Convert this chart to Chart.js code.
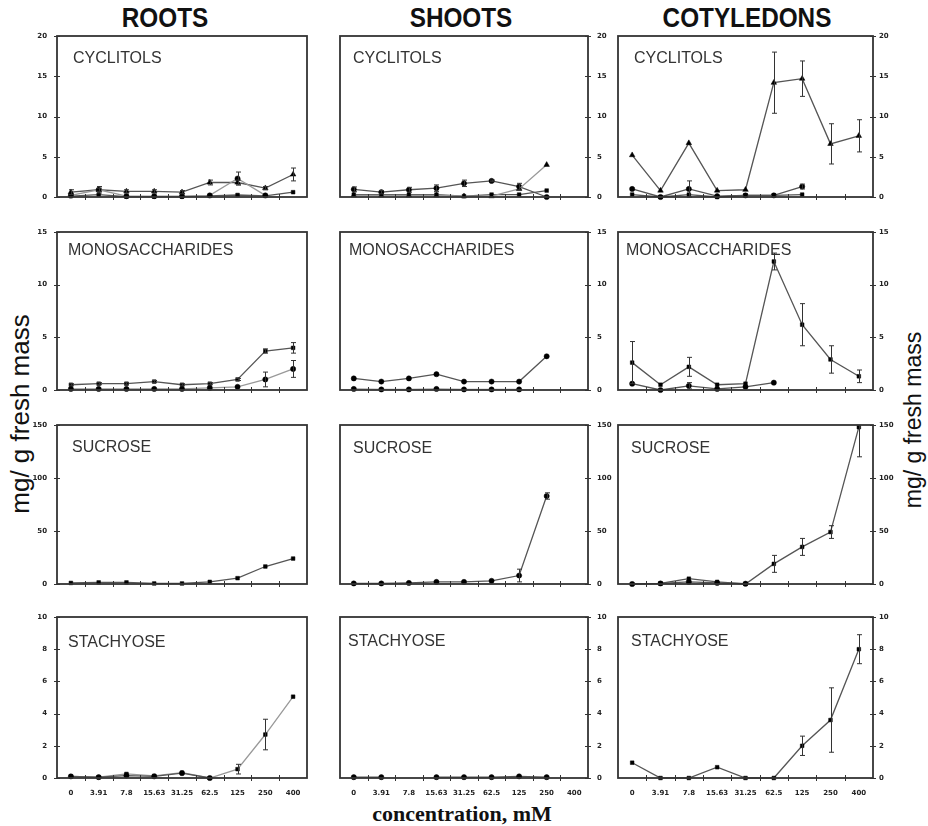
<!DOCTYPE html>
<html><head><meta charset="utf-8">
<script src="https://cdn.jsdelivr.net/npm/chart.js@4"></script>
<style>
html,body{margin:0;padding:0;background:#fff}
body{width:928px;height:826px;position:relative;overflow:hidden}
canvas{position:absolute}
.hdr{position:absolute;top:3px;font:bold 27px "Liberation Sans",Arial,sans-serif;color:#111;white-space:nowrap;transform:translateX(-50%) scaleX(0.9)}
.ytitle{position:absolute;white-space:nowrap;font-family:"Liberation Sans",Arial,sans-serif;color:#111;transform:translate(-50%,-50%) rotate(-90deg)}
.xtitle{position:absolute;white-space:nowrap;font:bold 22px "Liberation Serif","Times New Roman",serif;color:#111;transform:translate(-50%,-50%)}
</style>
</head><body>
<div class="hdr" style="left:165px">ROOTS</div>
<div class="hdr" style="left:461px">SHOOTS</div>
<div class="hdr" style="left:747px">COTYLEDONS</div>
<div class="ytitle" style="left:20px;top:414px;font-size:26px">mg/ g fresh mass</div>
<div class="ytitle" style="left:913px;top:420px;font-size:23px">mg/ g fresh mass</div>
<div class="xtitle" style="left:462px;top:814px">concentration, mM</div>
<script>
// ---------- data ----------
const categories = ['0','3.91','7.8','15.63','31.25','62.5','125','250','400'];
const panelTitles = ['CYCLITOLS','MONOSACCHARIDES','SUCROSE','STACHYOSE'];
const yMaxes = [20, 15, 150, 10];
const ySteps = [5, 5, 50, 2];

// ROOTS
const rootsCyclitolsA = [0.6, 0.9, 0.7, 0.7, 0.6, 1.8, 1.8, 1.1, 2.8];
const rootsCyclitolsAErr = [0.3, 0.4, 0.2, 0.2, 0.2, 0.3, 0.3, 0.2, 0.8];
const rootsCyclitolsB = [0.2, 0.9, 0.1, 0.1, 0.1, 0.2, 2.3, 0.2];
const rootsCyclitolsBErr = [0, 0.2, 0, 0, 0, 0, 0.8, 0];
const rootsCyclitolsC = [0.1, 0.3, 0.05, 0.05, 0.05, 0.15, 0.25, 0.15, 0.6];
const rootsMonoA = [0.5, 0.6, 0.6, 0.8, 0.5, 0.6, 1.0, 3.7, 4.0];
const rootsMonoAErr = [0.1, 0.1, 0.1, 0.1, 0.1, 0.1, 0.1, 0.2, 0.5];
const rootsMonoB = [0.1, 0.1, 0.1, 0.1, 0.1, 0.2, 0.3, 1.0, 2.0];
const rootsMonoBErr = [0, 0, 0, 0, 0, 0, 0, 0.7, 0.8];
const rootsSucrose = [1, 1.5, 1.5, 0.5, 0.5, 2, 5.5, 16.5, 24];
const rootsStachyoseA = [0.1, 0.05, 0.25, 0.13, 0.33, 0, 0.55, 2.7, 5.05];
const rootsStachyoseAErr = [0, 0, 0, 0, 0, 0, 0.3, 0.95, 0];
const rootsStachyoseB = [0.1, 0.05, 0.15, 0.1, 0.3, 0];

// SHOOTS
const shootsCyclitolsA = [0.95, 0.6, 0.9, 1.1, 1.7, 2.0, 1.3, 0];
const shootsCyclitolsAErr = [0.3, 0.2, 0.3, 0.4, 0.4, 0.1, 0.4, 0];
const shootsCyclitolsB = [0.2, 0.2, 0.2, 0.2, 0.1, 0.1, 1.0, 4.0];
const shootsCyclitolsC = [0.3, 0.3, 0.3, 0.3, 0.1, 0.3, 0.3, 0.8];
const shootsMonoA = [1.1, 0.8, 1.1, 1.5, 0.8, 0.8, 0.8, 3.2];
const shootsMonoB = [0.1, 0.05, 0.05, 0.1, 0.05, 0.05, 0.05];
const shootsSucrose = [0.5, 0.5, 1, 2, 2, 3, 8, 83];
const shootsSucroseErr = [0, 0, 0, 0, 0, 0, 6, 3];
const shootsStachyose = [0.05, 0.05, null, 0.05, 0.05, 0.05, 0.1, 0.05];

// COTYLEDONS
const cotCyclitolsA = [5.2, 0.8, 6.7, 0.8, 0.9, 14.2, 14.7, 6.6, 7.6];
const cotCyclitolsAErr = [0, 0, 0, 0, 0, 3.8, 2.2, 2.5, 2.0];
const cotCyclitolsB = [1.0, 0, 1.0, 0.1, 0.2, 0.2, 1.3];
const cotCyclitolsBErr = [0, 0, 1.0, 0, 0, 0, 0.3];
const cotCyclitolsC = [0.3, 0, 0.3, 0, 0.2, 0.2, 0.3];
const cotMonoA = [2.6, 0.5, 2.2, 0.5, 0.6, 12.2, 6.2, 2.9, 1.3];
const cotMonoAErr = [2.0, 0, 0.9, 0, 0, 0.8, 2.0, 1.3, 0.6];
const cotMonoB = [0.6, 0, 0.4, 0.1, 0.3, 0.7];
const cotMonoBErr = [0, 0, 0.3, 0, 0, 0];
const cotSucroseA = [0, 0.5, 5, 2, 0, 19, 35, 49, 148];
const cotSucroseAErr = [0, 0, 0, 0, 0, 8, 8, 6, 28];
const cotSucroseB = [0, 0.5, 2, 1, 0.3];
const cotStachyose = [0.95, 0, 0, 0.67, 0, 0, 2.0, 3.6, 8.0];
const cotStachyoseErr = [0, 0, 0, 0, 0, 0, 0.6, 2.0, 0.9];

// ---------- layout ----------
const cols = [
  {L:57,  R:307, axis:'left',  pad:10},
  {L:340, R:588, axis:'right', pad:9},
  {L:618, R:873, axis:'right', pad:6}
];
const rows = [{T:36,B:197},{T:232,B:390},{T:425,B:584},{T:617,B:778}];
const titleOffsets = [
  [[16,27],[13,27],[16,27]],
  [[11,23],[9,23],[8,23]],
  [[15,27],[13,28],[13,28]],
  [[11,30],[8,29],[13,29]]
];

const DARK = '#555', LIGHT = '#999';
function ser(data, style, color, errors){
  return {data, errors, pointStyle:style, borderColor:color, borderWidth:1.3,
    pointRadius: style==='triangle'?3.2:2.6, pointBackgroundColor:'#000', pointBorderColor:'#000',
    pointBorderWidth:0.5, backgroundColor:'#000', tension:0, fill:false, clip:5};
}

const panels = [
  {row:0,col:0,ds:[ser(rootsCyclitolsB,'circle',LIGHT,rootsCyclitolsBErr), ser(rootsCyclitolsC,'rect',DARK), ser(rootsCyclitolsA,'triangle',DARK,rootsCyclitolsAErr)]},
  {row:0,col:1,ds:[ser(shootsCyclitolsB,'triangle',LIGHT), ser(shootsCyclitolsC,'rect',DARK), ser(shootsCyclitolsA,'circle',DARK,shootsCyclitolsAErr)]},
  {row:0,col:2,ds:[ser(cotCyclitolsC,'rect',DARK), ser(cotCyclitolsB,'circle',DARK,cotCyclitolsBErr), ser(cotCyclitolsA,'triangle',DARK,cotCyclitolsAErr)]},
  {row:1,col:0,ds:[ser(rootsMonoB,'circle',LIGHT,rootsMonoBErr), ser(rootsMonoA,'rect',DARK,rootsMonoAErr)]},
  {row:1,col:1,ds:[ser(shootsMonoB,'circle',LIGHT), ser(shootsMonoA,'circle',DARK)]},
  {row:1,col:2,ds:[ser(cotMonoB,'circle',DARK,cotMonoBErr), ser(cotMonoA,'rect',DARK,cotMonoAErr)]},
  {row:2,col:0,ds:[ser(rootsSucrose,'rect',DARK)]},
  {row:2,col:1,ds:[ser(shootsSucrose,'circle',DARK,shootsSucroseErr)]},
  {row:2,col:2,ds:[ser(cotSucroseB,'circle',DARK), ser(cotSucroseA,'rect',DARK,cotSucroseAErr)]},
  {row:3,col:0,ds:[ser(rootsStachyoseB,'circle',DARK), ser(rootsStachyoseA,'rect',LIGHT,rootsStachyoseAErr)]},
  {row:3,col:1,ds:[ser(shootsStachyose,'circle',DARK)]},
  {row:3,col:2,ds:[ser(cotStachyose,'rect',DARK,cotStachyoseErr)]}
];

// ---------- plugins ----------
const framePlugin = {
  id:'frame',
  afterDraw(chart, args, opts){
    const {ctx, chartArea:a, scales} = chart;
    const x = scales.x, y = scales.y;
    ctx.save();
    ctx.strokeStyle = '#333';
    ctx.lineWidth = 1;
    const xa = y.position === 'left' ? a.left : a.right;
    y.ticks.forEach(t => {
      const py = Math.round(y.getPixelForValue(t.value)) + 0.5;
      ctx.beginPath(); ctx.moveTo(xa-3, py); ctx.lineTo(xa+3, py); ctx.stroke();
    });
    const step = x.getPixelForValue(1) - x.getPixelForValue(0);
    for (let i = 1; i < categories.length; i++){
      const px = Math.round(x.getPixelForValue(i) - step/2) + 0.5;
      ctx.beginPath(); ctx.moveTo(px, a.bottom-3); ctx.lineTo(px, a.bottom+3); ctx.stroke();
    }
    ctx.lineWidth = 1.8;
    ctx.strokeRect(a.left, a.top, a.right-a.left, a.bottom-a.top);
    ctx.font = '16px "Liberation Sans", Arial, sans-serif';
    ctx.fillStyle = '#333';
    ctx.textAlign = 'left'; ctx.textBaseline = 'alphabetic';
    ctx.fillText(opts.text, a.left + opts.dx, a.top + opts.dy);
    ctx.restore();
  }
};
const errPlugin = {
  id:'errbars',
  afterDatasetsDraw(chart){
    const {ctx, chartArea:a, scales:{y}} = chart;
    ctx.save();
    ctx.beginPath(); ctx.rect(a.left, a.top, a.right-a.left, a.bottom-a.top+2); ctx.clip();
    ctx.strokeStyle = '#333'; ctx.lineWidth = 1;
    chart.data.datasets.forEach((ds, di) => {
      if (!ds.errors) return;
      const meta = chart.getDatasetMeta(di);
      meta.data.forEach((pt, i) => {
        const e = ds.errors[i], v = ds.data[i];
        if (!e || v == null) return;
        const px = Math.round(pt.x) + 0.5;
        const y1 = y.getPixelForValue(v + e), y2 = y.getPixelForValue(Math.max(0, v - e));
        ctx.beginPath();
        ctx.moveTo(px, y1); ctx.lineTo(px, y2);
        ctx.moveTo(px-2.5, y1); ctx.lineTo(px+2.5, y1);
        ctx.moveTo(px-2.5, y2); ctx.lineTo(px+2.5, y2);
        ctx.stroke();
      });
    });
    ctx.restore();
  }
};

// ---------- build ----------
const ML = 40, MR = 40, MT = 20, MB = 30;
const tickFont = {family:'"DejaVu Sans", sans-serif', size:7, weight:'bold'};
panels.forEach(p => {
  const c = cols[p.col], r = rows[p.row];
  const w = (c.R - c.L) + ML + MR, h = (r.B - r.T) + MT + MB;
  const cv = document.createElement('canvas');
  cv.width = w; cv.height = h;
  cv.style.left = (c.L - ML) + 'px'; cv.style.top = (r.T - MT) + 'px';
  cv.style.width = w + 'px'; cv.style.height = h + 'px';
  document.body.appendChild(cv);
  const left = c.axis === 'left';
  new Chart(cv, {
    type:'line',
    data:{labels:categories, datasets:p.ds},
    options:{
      responsive:false, animation:false, devicePixelRatio:1,
      layout:{padding:{left:left?0:ML, right:left?MR:0, top:MT, bottom:0}},
      plugins:{legend:{display:false}, tooltip:{enabled:false},
        frame:{text:panelTitles[p.row], dx:titleOffsets[p.row][p.col][0], dy:titleOffsets[p.row][p.col][1]}},
      scales:{
        x:{type:'category', offset:true,
           grid:{display:false, drawTicks:false}, border:{display:false},
           ticks:{display:p.row === 3, font:tickFont, color:'#222', padding:11, maxRotation:0, autoSkip:false},
           afterFit:s => { s.height = MB; }},
        y:{position:c.axis, min:0, max:yMaxes[p.row],
           grid:{display:false, drawTicks:false}, border:{display:false},
           ticks:{stepSize:ySteps[p.row], font:tickFont, color:'#222', padding:c.pad},
           afterFit:s => { s.width = left ? ML : MR; }}
      }
    },
    plugins:[errPlugin, framePlugin]
  });
});
</script>
</body></html>
